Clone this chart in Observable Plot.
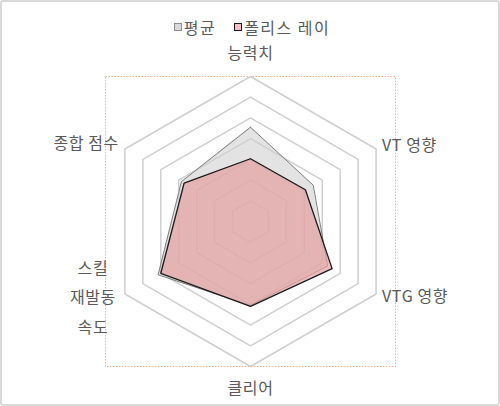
<!DOCTYPE html>
<html><head><meta charset="utf-8">
<script src="https://cdn.jsdelivr.net/npm/d3@7"></script>
<script src="https://cdn.jsdelivr.net/npm/@observablehq/plot@0.6"></script>
<style>
body{margin:0;background:#fff;}
#wrap{position:relative;width:500px;height:406px;font-family:"Noto Sans CJK KR",sans-serif;color:#595959;overflow:hidden;}
#legend{height:42px;display:flex;justify-content:center;align-items:flex-start;padding-top:17px;padding-left:4px;box-sizing:border-box;font-size:16px;line-height:20px;gap:18px;letter-spacing:1.5px;}
.item{display:flex;align-items:center;gap:2px;}
.sw{width:6px;height:6px;display:inline-block;}
#border{position:absolute;left:0;top:0;width:500px;height:406px;box-sizing:border-box;border:2px solid #d9d9d9;border-radius:3px;pointer-events:none;}
#chart svg{display:block;}
</style></head>
<body><div id="wrap"><div id="legend"></div><div id="chart"></div><div id="border"></div></div>
<script>
// ---- data ----
const axes = ["능력치", "VT 영향", "VTG 영향", "클리어", "스킬\n재발동\n속도", "종합 점수"];
const seriesNames = ["평균", "폴리스 레이"];
const averageValues = [4.55, 3.5, 4.3, 4.05, 5.15, 3.85];
const policeValues = [3.03, 3.06, 4.55, 4.1, 5.0, 3.7];
const ringLevels = [1, 2, 3, 4, 5, 6, 7];
const maxLevel = 7;

// ---- geometry helpers (data space) ----
const angle = i => (i * 2 * Math.PI) / axes.length;
const pt = (i, r) => ({x: r * Math.sin(angle(i)), y: r * Math.cos(angle(i))});
const polygon = values => {
  const p = values.map((v, i) => ({...pt(i, v), axis: axes[i], value: v}));
  return [...p, p[0]];
};
const rings = ringLevels.flatMap(k =>
  [...axes.map((a, i) => ({...pt(i, k), ring: k})), {...pt(0, k), ring: k}]);

const avgPoly = polygon(averageValues);
const polPoly = polygon(policeValues);

// ---- label styling (offsets in px from outer ring vertex) ----
const labelStyle = [
  {dx: 0, dy: -27, anchor: "middle"},
  {dx: 6, dy: -7, anchor: "start"},
  {dx: 6, dy: -1, anchor: "start"},
  {dx: 0, dy: 18, anchor: "middle"},
  {dx: -32, dy: 0, anchor: "middle"},
  {dx: -6, dy: -9, anchor: "end"}
];
const labelMarks = axes.map((a, i) =>
  Plot.text([{...pt(i, maxLevel), label: a}], {
    x: "x", y: "y", text: "label",
    dx: labelStyle[i].dx, dy: labelStyle[i].dy,
    textAnchor: labelStyle[i].anchor,
    lineHeight: 1.85,
    fill: "#595959", fontSize: 16
  }));

const chart = Plot.plot({
  width: 500,
  height: 364,
  marginLeft: 105,
  marginRight: 105,
  marginTop: 34,
  marginBottom: 40,
  x: {domain: [-maxLevel, maxLevel], axis: null},
  y: {domain: [-maxLevel, maxLevel], axis: null},
  style: {background: "transparent", fontFamily: "'Noto Sans CJK KR', sans-serif", overflow: "visible", letterSpacing: "0.6px"},
  marks: [
    Plot.frame({stroke: "#f4b183", strokeDasharray: "1.5,1.5", strokeWidth: 1}),
    Plot.line(rings, {x: "x", y: "y", z: "ring", stroke: "#cfcfcf", strokeWidth: 1.5}),
    Plot.area(avgPoly, {x1: "x", y1: "y", x2: 0, y2: 0, fill: "#d0d0d0", fillOpacity: 0.6}),
    Plot.line(avgPoly, {x: "x", y: "y", stroke: "#7f7f7f", strokeWidth: 1}),
    Plot.area(polPoly, {x1: "x", y1: "y", x2: 0, y2: 0, fill: "#e49c9c", fillOpacity: 0.68}),
    Plot.line(polPoly, {x: "x", y: "y", stroke: "#1a1a1a", strokeWidth: 1.3}),
    ...labelMarks
  ]
});
document.getElementById("chart").appendChild(chart);

// ---- legend ----
const legendStyles = [
  {fill: "#d9d9d9", border: "1px solid #8c8c8c"},
  {fill: "#f8c0c0", border: "1.5px solid #1a1a1a"}
];
const legend = document.getElementById("legend");
seriesNames.forEach((name, i) => {
  const item = document.createElement("span");
  item.className = "item";
  const sw = document.createElement("span");
  sw.className = "sw";
  sw.style.background = legendStyles[i].fill;
  sw.style.border = legendStyles[i].border;
  const t = document.createElement("span");
  t.textContent = name;
  item.appendChild(sw);
  item.appendChild(t);
  legend.appendChild(item);
});
</script>
</body></html>
